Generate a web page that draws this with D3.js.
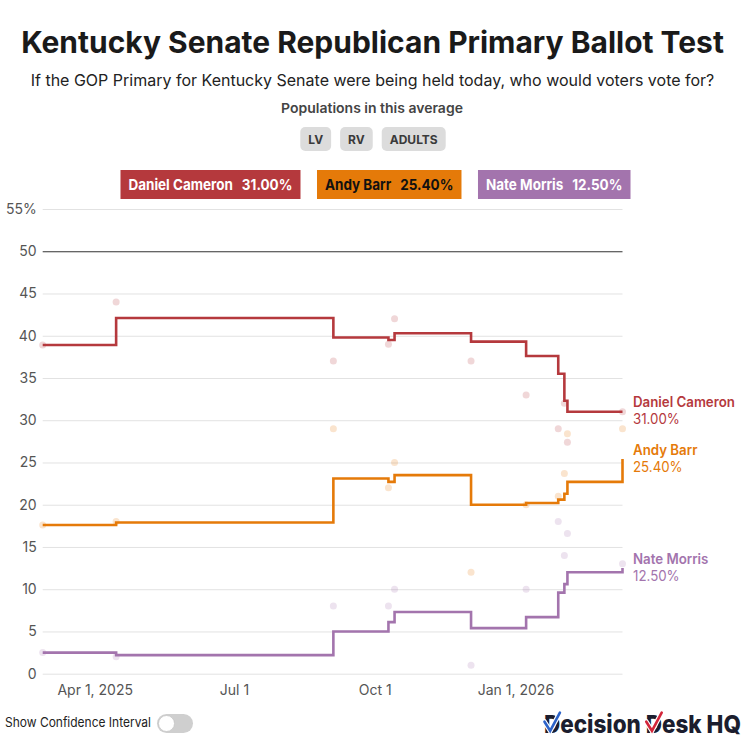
<!DOCTYPE html>
<html><head><meta charset="utf-8">
<script src="https://cdn.jsdelivr.net/npm/d3@7"></script>
<style>
body{margin:0;background:#fff;}
svg{display:block;font-family:Inter,"Noto Sans",sans-serif;}
</style>
</head><body>
<svg id="c" width="745" height="745"></svg>
<script>
// ---- DATA ----
const candidates = ["Daniel Cameron", "Andy Barr", "Nate Morris"];
const latestValues = ["31.00%", "25.40%", "12.50%"];
const pollDates = ["2025-02-26","2025-04-15","2025-09-04","2025-10-10","2025-10-14","2025-12-03","2026-01-08","2026-01-29","2026-02-02","2026-02-04","2026-03-12"];
const cameronPolls = [38.9, 44, 37, 39, 42, 37, 33, 29, 32, 27.4, 31];
const barrPolls    = [17.6, 18, 29, 22, 25, 12, 20, 21, 23.7, 28.4, 29];
const morrisPolls  = [2.5, 2, 8, 8, 10, 1, 10, 18, 14, 16.6, 13];
const cameronAvg = [38.9, 42.1, 39.8, 39.5, 40.3, 39.3, 37.6, 35.5, 32.3, 31.0, 31.0];
const barrAvg    = [17.6, 17.9, 23.1, 22.7, 23.5, 20.0, 20.2, 20.6, 21.3, 22.7, 25.4];
const morrisAvg  = [2.5, 2.2, 5.0, 6.1, 7.3, 5.4, 6.7, 9.6, 10.6, 12.0, 12.5];
const yTicks = [0,5,10,15,20,25,30,35,40,45,50,55];
const xTickDates = ["2025-04-01","2025-07-01","2025-10-01","2026-01-01"];
const xTickLabels = ["Apr 1, 2025","Jul 1","Oct 1","Jan 1, 2026"];
const populations = ["LV","RV","ADULTS"];
const domainDates = ["2025-02-26","2026-03-12"];

// ---- STYLE ----
const colors = ["#b5393d","#e57a09","#a374ad"];
const legendText = ["#fff","#111","#fff"];

const svg = d3.select("#c");
const parse = d3.utcParse("%Y-%m-%d");
const W = 745;
const x = d3.scaleUtc().domain(domainDates.map(parse)).range([42.7, 622.5]);
const y = d3.scaleLinear().domain([0,55]).range([673.7, 209]);

function fitText(sel, target){
  const n = sel.node(); const fs = parseFloat(sel.attr("font-size"));
  const w = n.getComputedTextLength();
  sel.attr("font-size", (fs*target/w).toFixed(2));
}
function squeeze(sel, target, ax){
  const w = sel.node().getComputedTextLength();
  const s = target / w;
  sel.attr("transform", `translate(${ax},0) scale(${s},1) translate(${-ax},0)`);
  return s;
}

// Title
const title = svg.append("text").attr("x", W/2).attr("y", 53).attr("text-anchor","middle")
  .attr("font-size", 28).attr("font-weight", 700).attr("fill","#1a1a1a")
  .text("Kentucky Senate Republican Primary Ballot Test");
fitText(title, 703);
const sub = svg.append("text").attr("x", W/2).attr("y", 86).attr("text-anchor","middle")
  .attr("font-size", 15).attr("fill","#222")
  .text("If the GOP Primary for Kentucky Senate were being held today, who would voters vote for?");
fitText(sub, 684);

const pop = svg.append("text").attr("x", 372).attr("y", 113).attr("text-anchor","middle")
  .attr("font-size", 13.5).attr("font-weight", 600).attr("fill","#444")
  .text("Populations in this average");
squeeze(pop, 182, 372);

// Population chips
const chipG = svg.append("g");
const chips = [];
populations.forEach(p => {
  const g = chipG.append("g");
  const t = g.append("text").attr("font-size", 12).attr("font-weight", 700).attr("fill","#3a3a3a")
    .attr("text-anchor","middle").text(p);
  const tw = t.node().getComputedTextLength();
  const w = tw + 16;
  g.insert("rect","text").attr("width", w).attr("height", 24).attr("rx", 5).attr("fill","#dcdcdc");
  t.attr("x", w/2).attr("y", 16.5);
  chips.push({g, w});
});
const chipGap = 9;
const chipTotal = d3.sum(chips, c=>c.w) + chipGap*(chips.length-1);
let cx = 373 - chipTotal/2;
chips.forEach(c => { c.g.attr("transform", `translate(${cx},127)`); cx += c.w + chipGap; });

// Legend boxes
const legG = svg.append("g");
const boxes = [];
let legScale = null;
candidates.forEach((c,i) => {
  const g = legG.append("g");
  const t = g.append("text").attr("font-size", 15).attr("font-weight", 700).attr("fill", legendText[i]).attr("y", 20).attr("x", 8);
  t.append("tspan").text(c);
  t.append("tspan").attr("dx", 10).text(latestValues[i]);
  const raw = t.node().getComputedTextLength() + 10;
  if (legScale === null) legScale = 164 / raw;
  t.attr("transform", `translate(8,0) scale(${legScale},1) translate(-8,0)`);
  const w = raw*legScale + 16;
  g.insert("rect","text").attr("width", w).attr("height", 29).attr("fill", colors[i]);
  boxes.push({g,w});
});
const boxGap = 16.5;
const boxTotal = d3.sum(boxes, b=>b.w) + boxGap*(boxes.length-1);
let bx = 375.5 - boxTotal/2;
boxes.forEach(b => { b.g.attr("transform", `translate(${bx},170)`); bx += b.w + boxGap; });

// Y axis + grid
const yAxis = svg.append("g").attr("transform", `translate(${x.range()[0]},0)`)
  .call(d3.axisLeft(y).tickValues(yTicks).tickSize(-(x.range()[1]-x.range()[0])).tickPadding(6)
    .tickFormat(d => d===55 ? "55%" : d));
yAxis.select(".domain").remove();
yAxis.selectAll(".tick line").attr("stroke", d => d===50 ? "#333" : "#e2e2e2").attr("stroke-width", d => d===50 ? 1.2 : 1);
yAxis.selectAll(".tick text").attr("font-size", 14).attr("fill","#555").attr("font-family","Inter,sans-serif");

// X axis
const xAxis = svg.append("g").attr("transform", `translate(0,${y(0)})`)
  .call(d3.axisBottom(x).tickValues(xTickDates.map(parse)).tickSize(0).tickPadding(11)
    .tickFormat((d,i) => xTickLabels[i]));
xAxis.select(".domain").remove();
xAxis.selectAll(".tick text").attr("font-size", 14).attr("fill","#555").attr("font-family","Inter,sans-serif");

// Series
const polls = [cameronPolls, barrPolls, morrisPolls];
const avgs = [cameronAvg, barrAvg, morrisAvg];
const dates = pollDates.map(parse);

polls.forEach((arr,i) => {
  svg.append("g").selectAll("circle").data(arr).join("circle")
    .attr("cx", (d,j) => x(dates[j])).attr("cy", d => y(d)).attr("r", 3.5)
    .attr("fill", colors[i]).attr("fill-opacity", 0.2);
});

const line = d3.line().x(d => x(d.date)).y(d => y(d.v)).curve(d3.curveStepAfter);
avgs.forEach((arr,i) => {
  svg.append("path").datum(arr.map((v,j)=>({date: dates[j], v})))
    .attr("d", line).attr("fill","none").attr("stroke", colors[i]).attr("stroke-width", 2.6)
    .attr("stroke-linejoin","miter");
});

// End labels
let labelScale = null;
avgs.forEach((arr,i) => {
  const last = arr[arr.length-1];
  const yy = y(last);
  const nm = svg.append("text").attr("x", 633).attr("y", yy-4.5).attr("font-size", 14).attr("font-weight", 600)
    .attr("fill", colors[i]).text(candidates[i]);
  if (labelScale === null) labelScale = Math.min(1, 102 / nm.node().getComputedTextLength());
  nm.attr("transform", `translate(633,0) scale(${labelScale},1) translate(-633,0)`);
  svg.append("text").attr("x", 633).attr("y", yy+12.5).attr("font-size", 14)
    .attr("fill", colors[i]).attr("transform", `translate(633,0) scale(${labelScale},1) translate(-633,0)`)
    .text(latestValues[i]);
});

// Bottom controls
const ci = svg.append("text").attr("x", 5).attr("y", 727).attr("font-size", 13).attr("fill","#222")
  .text("Show Confidence Interval");
squeeze(ci, 146, 5);
svg.append("rect").attr("x", 157).attr("y", 714).attr("width", 36).attr("height", 19).attr("rx", 9.5).attr("fill","#cfcfcf");
svg.append("circle").attr("cx", 166.5).attr("cy", 723.5).attr("r", 8).attr("fill","#fff").attr("stroke","#c4c4c4").attr("stroke-width",0.8);

// Logo
const logo = svg.append("text").attr("x", 544).attr("y", 733)
  .attr("font-size", 24.5).attr("font-weight", 800).attr("fill","#1b1d2e")
  .text("Decision Desk HQ");
squeeze(logo, 197, 544);
const ln = logo.node();
const ls = 197 / ln.getComputedTextLength();
[[0,"#2d63c8"],[9,"#d3263a"]].forEach(([idx,col]) => {
  const ext = ln.getExtentOfChar(idx);
  const x0 = 544 + (ext.x-544)*ls, w = ext.width*ls, y0 = ext.y, h = ext.height;
  const d = `M${x0+0.5},${y0+h*0.42} L${x0+w*0.38},${y0+h*0.72} L${x0+w*0.98},${y0+h*0.12}`;
  svg.append("path").attr("d", d).attr("fill","none").attr("stroke","#fff").attr("stroke-width", 5).attr("stroke-linecap","round");
  svg.append("path").attr("d", d).attr("fill","none").attr("stroke", col).attr("stroke-width", 2.6).attr("stroke-linecap","round");
});
</script>
</body></html>
